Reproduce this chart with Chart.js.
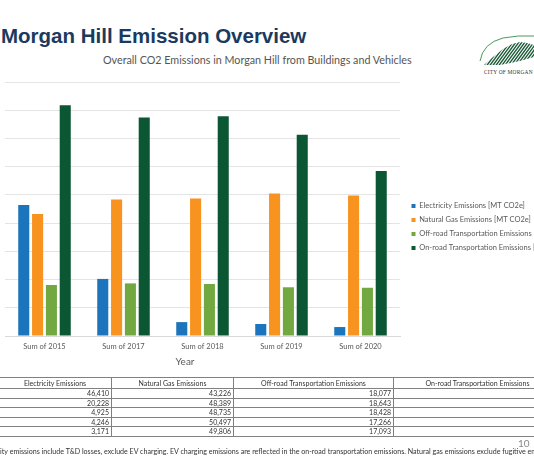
<!DOCTYPE html>
<html>
<head>
<meta charset="utf-8">
<script src="https://cdn.jsdelivr.net/npm/chart.js@4.4.1/dist/chart.umd.min.js"></script>
<style>
  html, body { margin: 0; padding: 0; background: #fff; }
  body { width: 534px; height: 462px; overflow: hidden; position: relative; font-family: Lato, 'Open Sans', sans-serif; }
  #title { position: absolute; left: 1px; top: 26px; font: bold 20.5px 'Liberation Sans', Arial, sans-serif; color: #1a3a5e; line-height: 20px; white-space: nowrap; }
  #sub { position: absolute; left: 103px; top: 53px; font-size: 10.75px; line-height: 14px; color: #555; white-space: nowrap; }
  #wrap { position: absolute; left: 0; top: 72px; width: 534px; height: 300px; }
  #year { position: absolute; left: 0; width: 370px; top: 354px; text-align: center; font-size: 10px; line-height: 14px; color: #595959; }
  #logo { position: absolute; left: 476px; top: 30px; }
  #tbl { position: absolute; left: -2px; top: 377px; width: 563px; border-collapse: collapse; table-layout: fixed; font-size: 7px; color: #333; }
  #tbl th, #tbl td { border: 1px solid #808080; padding: 0 2px; white-space: nowrap; overflow: hidden; }
  #tbl th { font-weight: normal; height: 10px; line-height: 10px; text-align: center; }
  #tbl td { height: 8.5px; line-height: 8.5px; text-align: right; }
  #note { position: absolute; top: 447px; left: 0; font-size: 7.1px; line-height: 10px; color: #333; white-space: nowrap; }
  #page { position: absolute; left: 518px; top: 436px; font-size: 10px; line-height: 14px; color: #888; }
</style>
</head>
<body>
<div id="title">Morgan Hill Emission Overview</div>
<div id="sub">Overall CO2 Emissions in Morgan Hill from Buildings and Vehicles</div>

<svg id="logo" width="58" height="48" viewBox="476 30 58 48">
  <defs>
    <clipPath id="hills">
      <path d="M484,65 L493,57 L503,49 L512,44 L520,42 L527,43 L534,45 L534,57 L520,61 L500,65 Z"/>
    </clipPath>
  </defs>
  <path d="M480,61 Q483,43 503,38 Q518,35 534,36" fill="none" stroke="#4f9a5a" stroke-width="1"/>
  <g clip-path="url(#hills)" stroke="#1d5c38" stroke-width="1.4">
    <path d="M476,68 L498,38 M479,68 L501,38 M482,68 L504,38 M485,68 L507,38 M488,68 L510,38 M491,68 L513,38 M494,68 L516,38 M497,68 L519,38 M500,68 L522,38 M503,68 L525,38 M506,68 L528,38 M509,68 L531,38 M512,68 L534,38 M515,68 L537,38 M518,68 L540,38 M521,68 L543,38 M524,68 L546,38 M527,68 L549,38 M530,68 L552,38"/>
  </g>
  <text x="484" y="74" font-family="'Liberation Serif', serif" font-size="5.4" fill="#333" letter-spacing="0.2">CITY OF MORGAN HILL</text>
</svg>

<div id="wrap"><canvas id="chart"></canvas></div>
<div id="year">Year</div>

<table id="tbl">
  <colgroup><col style="width:113px"><col style="width:122px"><col style="width:160px"><col style="width:168px"></colgroup>
  <thead><tr><th>Electricity Emissions</th><th>Natural Gas Emissions</th><th>Off-road Transportation Emissions</th><th>On-road Transportation Emissions</th></tr></thead>
  <tbody id="rows"></tbody>
</table>

<div id="note"><span id="pre">*Electric</span>ity emissions include T&amp;D losses, exclude EV charging. EV charging emissions are reflected in the on-road transportation emissions. Natural gas emissions exclude fugitive emissions.</div>
<div id="page">10</div>

<script>
const years = ['Sum of 2015', 'Sum of 2017', 'Sum of 2018', 'Sum of 2019', 'Sum of 2020'];
const electricity = [46410, 20228, 4925, 4246, 3171];
const naturalGas = [43226, 48389, 48735, 50497, 49806];
const offRoad = [18077, 18643, 18428, 17266, 17093];
// on-road column is cut off in the table
const onRoad = [81800, 77400, 77900, 71300, 58500];
const seriesNames = [
  'Electricity Emissions [MT CO2e]',
  'Natural Gas Emissions [MT CO2e]',
  'Off-road Transportation Emissions [MT CO2e]',
  'On-road Transportation Emissions [MT CO2e]'
];
const seriesColors = ['#1c75bc', '#f7931e', '#72a840', '#0b5733'];
const yMax = 90000;
const yStep = 10000;

// table
const rows = document.getElementById('rows');
years.forEach((y, i) => {
  const tr = document.createElement('tr');
  [electricity[i], naturalGas[i], offRoad[i], onRoad[i]].forEach(v => {
    const td = document.createElement('td');
    td.textContent = v.toLocaleString('en-US');
    tr.appendChild(td);
  });
  rows.appendChild(tr);
});

// footnote starts cut off at the left edge
const note = document.getElementById('note');
note.style.left = (-document.getElementById('pre').offsetWidth) + 'px';

const allSeries = [electricity, naturalGas, offRoad, onRoad];

new Chart(document.getElementById('chart'), {
  type: 'bar',
  data: {
    labels: years,
    datasets: allSeries.map((d, i) => ({
      label: seriesNames[i],
      data: d,
      backgroundColor: seriesColors[i],
      borderWidth: 0,
      categoryPercentage: 0.7,
      barPercentage: 0.8
    }))
  },
  options: {
    responsive: true,
    maintainAspectRatio: false,
    animation: false,
    layout: { padding: { left: 5, top: 10, right: 0, bottom: 0 } },
    plugins: {
      tooltip: { enabled: false },
      legend: {
        position: 'right',
        align: 'center',
        maxWidth: 129,
        maxHeight: 285,
        labels: {
          boxWidth: 4, boxHeight: 4, padding: 6.5,
          color: '#595959',
          font: { family: 'Lato', size: 7.5 }
        }
      }
    },
    scales: {
      x: {
        grid: { display: false, drawTicks: false },
        border: { color: '#d9d9d9' },
        ticks: { color: '#595959', padding: 6, font: { family: 'Lato', size: 7.5 } },
        afterFit: s => { s.height = 36; }
      },
      y: {
        min: 0, max: yMax,
        ticks: { display: false, stepSize: yStep },
        grid: { color: '#e4e4e4', drawTicks: false },
        border: { display: false },
        afterFit: s => { s.width = 0; }
      },
      gap: {
        position: 'right',
        grid: { display: false, drawTicks: false },
        ticks: { display: false },
        border: { display: false },
        afterFit: s => { s.width = 5; }
      }
    }
  }
});
</script>
</body>
</html>
